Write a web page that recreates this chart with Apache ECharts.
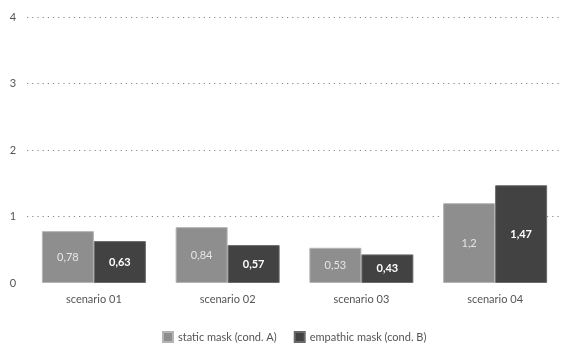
<!DOCTYPE html>
<html>
<head>
<meta charset="utf-8">
<script src="https://cdn.jsdelivr.net/npm/echarts@6/dist/echarts.min.js"></script>
<style>
  html, body { margin: 0; padding: 0; background: #fff; }
  #chart { width: 564px; height: 345px; }
</style>
</head>
<body>
<div id="chart"></div>
<script>
// Scenario categories and the two mask conditions
const categories = ['scenario 01', 'scenario 02', 'scenario 03', 'scenario 04'];
const seriesNames = ['static mask (cond. A)', 'empathic mask (cond. B)'];
const staticMask = [0.78, 0.84, 0.53, 1.2];
const empathicMask = [0.63, 0.57, 0.43, 1.47];
const yTicks = [0, 1, 2, 3, 4];

const FONT = 'Lato, "DejaVu Sans", sans-serif';
const fmt = v => String(v).replace('.', ',');

const chart = echarts.init(document.getElementById('chart'));
chart.setOption({
  animation: false,
  textStyle: { fontFamily: FONT },
  grid: { left: 27, right: 2, top: 17, bottom: 62 },
  legend: {
    top: 326,
    left: 157,
    itemWidth: 10,
    itemHeight: 10,
    itemGap: 17,
    icon: 'rect',
    textStyle: { color: '#555', fontSize: 11, fontFamily: FONT },
    data: seriesNames
  },
  xAxis: {
    type: 'category',
    data: categories,
    axisLine: { show: false },
    axisTick: { show: false },
    axisLabel: { color: '#555', fontSize: 11, margin: 11, fontFamily: FONT }
  },
  yAxis: {
    type: 'value',
    min: yTicks[0],
    max: yTicks[yTicks.length - 1],
    interval: 1,
    axisLine: { show: false },
    axisTick: { show: false },
    axisLabel: { color: '#555', fontSize: 11, margin: 14, align: 'center', fontFamily: FONT },
    splitLine: {
      show: true,
      showMinLine: false,
      lineStyle: { color: '#888', type: [1.2, 4], width: 1.2 }
    }
  },
  series: [
    {
      name: seriesNames[0],
      type: 'bar',
      data: staticMask,
      barWidth: 52,
      barGap: '0%',
      itemStyle: { color: '#8e8e8e', borderColor: '#b4b4b4', borderWidth: 1 },
      label: {
        show: true,
        position: 'inside',
        color: '#e6e6e6',
        fontSize: 11,
        fontFamily: FONT,
        formatter: p => fmt(p.value)
      }
    },
    {
      name: seriesNames[1],
      type: 'bar',
      data: empathicMask,
      barWidth: 52,
      barGap: '0%',
      itemStyle: { color: '#424242', borderColor: '#6a6a6a', borderWidth: 1 },
      label: {
        show: true,
        position: 'inside',
        color: '#ffffff',
        fontSize: 11,
        fontWeight: 'bold',
        fontFamily: FONT,
        formatter: p => fmt(p.value)
      }
    }
  ],
  color: ['#8e8e8e', '#424242']
});
</script>
</body>
</html>
